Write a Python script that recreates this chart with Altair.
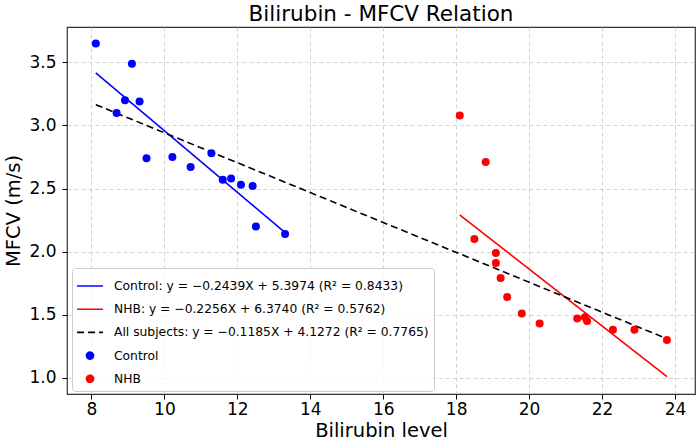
import altair as alt
import pandas as pd

# ---- Measurements ---------------------------------------------------------
# Control group: bilirubin level vs. muscle fibre conduction velocity (m/s)
ctrl_bili = [8.12, 8.69, 8.92, 9.11, 9.32, 9.51, 10.22, 10.72, 11.29, 11.60,
             11.83, 12.10, 12.42, 12.51, 13.31]
ctrl_mfcv = [3.65, 3.10, 3.20, 3.49, 3.19, 2.74, 2.75, 2.67, 2.78, 2.57,
             2.58, 2.53, 2.52, 2.20, 2.14]

# NHB group
nhb_bili = [18.10, 18.81, 18.50, 19.09, 19.09, 19.22, 19.40, 19.80, 20.29,
            21.32, 21.53, 21.59, 22.30, 22.89, 23.78]
nhb_mfcv = [3.08, 2.71, 2.10, 1.99, 1.91, 1.79, 1.64, 1.51, 1.43, 1.47,
            1.48, 1.45, 1.38, 1.38, 1.30]

# Linear fits: y = slope * X + intercept
fit_names = ["Control", "NHB", "All subjects"]
fit_slopes = [-0.2439, -0.2256, -0.1185]
fit_intercepts = [5.3974, 6.3740, 4.1272]
fit_r2 = [0.8433, 0.5762, 0.7765]

group_names = ["Control", "NHB"]

# ---- Tables ----------------------------------------------------------------
points = pd.DataFrame({
    "bilirubin": ctrl_bili + nhb_bili,
    "mfcv": ctrl_mfcv + nhb_mfcv,
    "series": ["Control"] * len(ctrl_bili) + ["NHB"] * len(nhb_bili),
})


def fit_label(name, slope, icpt, r2):
    sign = "−" if slope < 0 else ""
    return f"{name}: y = {sign}{abs(slope):.4f}X + {icpt:.4f} (R² = {r2:.4f})"


fit_labels = [fit_label(n, s, b, r) for n, s, b, r in
              zip(fit_names, fit_slopes, fit_intercepts, fit_r2)]

# each fitted line spans the x-range of the subjects it was fitted on
fit_xranges = [
    (min(ctrl_bili), max(ctrl_bili)),
    (min(nhb_bili), max(nhb_bili)),
    (min(ctrl_bili + nhb_bili), max(ctrl_bili + nhb_bili)),
]
line_rows = []
for label, slope, icpt, (x0, x1) in zip(fit_labels, fit_slopes, fit_intercepts, fit_xranges):
    for xv in (x0, x1):
        line_rows.append({"bilirubin": xv, "mfcv": slope * xv + icpt, "series": label})
lines = pd.DataFrame(line_rows)

# ---- Styling ---------------------------------------------------------------
FONT = "DejaVu Sans"
series_domain = fit_labels + group_names
series_colors = ["#0000ff", "#ff0000", "#000000", "#0000ff", "#ff0000"]
series_dashes = [[1, 0], [1, 0], [7, 4], [1, 0], [1, 0]]

# legend glyphs: a short horizontal stroke for fits, a solid dot for groups
LINE_GLYPH = "M-1.1,0H1.1"
DOT_GLYPH = " ".join(
    f"M{r},0A{r},{r} 0 1,1 -{r},0A{r},{r} 0 1,1 {r},0"
    for r in (0.30, 0.23, 0.16, 0.09)
) + " M-0.03,0H0.03"

color_scale = alt.Scale(domain=series_domain, range=series_colors)
dash_scale = alt.Scale(domain=series_domain, range=series_dashes)
shape_scale = alt.Scale(domain=series_domain, range=[LINE_GLYPH] * 3 + [DOT_GLYPH] * 2)

x_scale = alt.Scale(domain=[7.33, 24.55], nice=False, zero=False)
y_scale = alt.Scale(domain=[0.871, 3.781], nice=False, zero=False)

x_axis = alt.Axis(title="Bilirubin level", values=list(range(8, 25, 2)),
                  format="d", titlePadding=4, labelPadding=2)
y_axis = alt.Axis(title="MFCV (m/s)", values=[1.0, 1.5, 2.0, 2.5, 3.0, 3.5],
                  format=".1f", titlePadding=5, labelPadding=6)

x_enc = alt.X("bilirubin:Q", scale=x_scale, axis=x_axis)
y_enc = alt.Y("mfcv:Q", scale=y_scale, axis=y_axis)


def key_legend():
    return alt.Legend(
        title=None, orient="none", legendX=5, legendY=241,
        symbolSize=552, symbolStrokeWidth=1.6, symbolOpacity=1,
        labelFont=FONT, labelFontSize=12.3, labelColor="black", labelOffset=11,
        labelLimit=0, rowPadding=3.2, padding=5,
        fillColor="rgba(255,255,255,0.8)", strokeColor="#cccccc", cornerRadius=3,
    )


# ---- Layers ----------------------------------------------------------------
fit_layers = [
    alt.Chart(lines).transform_filter(alt.datum.series == label)
    .mark_line(color=col, strokeWidth=1.6, strokeDash=dash, clip=True)
    .encode(x=x_enc, y=y_enc)
    for label, col, dash in zip(fit_labels, series_colors[:3], series_dashes[:3])
]

dot_layers = [
    alt.Chart(points).transform_filter(alt.datum.series == grp)
    .mark_circle(color=col, size=64, opacity=1)
    .encode(x=x_enc, y=y_enc)
    for grp, col in zip(group_names, series_colors[3:])
]

# invisible layer that carries the combined legend
key = alt.Chart(points).mark_point(filled=False, opacity=0).encode(
    x=x_enc, y=y_enc,
    color=alt.Color("series:N", scale=color_scale, legend=key_legend()),
    shape=alt.Shape("series:N", scale=shape_scale, legend=key_legend()),
    strokeDash=alt.StrokeDash("series:N", scale=dash_scale, legend=key_legend()),
)

chart = alt.layer(*fit_layers, *dot_layers, key).properties(
    width=628, height=367,
    title=alt.Title("Bilirubin - MFCV Relation", font=FONT, fontSize=21.5,
                    fontWeight="normal", color="black", offset=2),
    autosize="none",
    padding={"left": 67, "top": 27, "right": 5, "bottom": 49},
).configure_view(
    stroke="#333333", strokeWidth=1.2,
).configure_axis(
    labelFont=FONT, labelFontSize=17, labelColor="black",
    titleFont=FONT, titleFontSize=19.5, titleFontWeight="normal", titleColor="black",
    tickColor="black", tickSize=5, domain=False,
    grid=True, gridColor="#c8c8c8", gridDash=[4, 3], gridWidth=0.8,
)

chart.save("out.html", embed_options={"renderer": "svg", "actions": False})
